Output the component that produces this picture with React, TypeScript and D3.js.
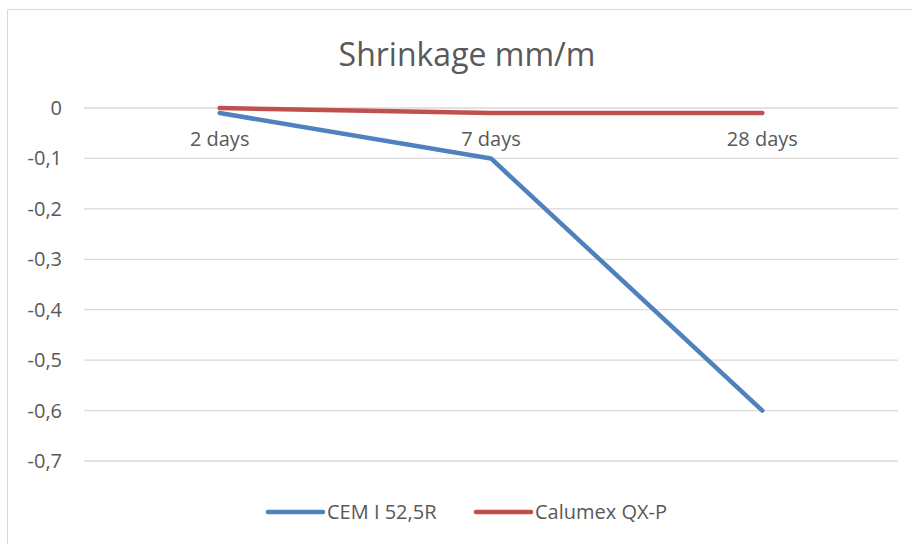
import React from "react";
import * as d3 from "d3";

const categories = ["2 days", "7 days", "28 days"];
const cemValues = [-0.01, -0.1, -0.6];
const calumexValues = [0, -0.01, -0.01];
const yTicks = [0, -0.1, -0.2, -0.3, -0.4, -0.5, -0.6, -0.7];
const seriesNames = ["CEM I 52,5R", "Calumex QX-P"];
const seriesColors = ["#4F81BD", "#C0504D"];

export default function App() {
  const W = 912, H = 544;
  const left = 84, right = 898, top = 108, bottom = 461;
  const x = d3.scaleBand<string>().domain(categories).range([left, right]);
  const y = d3.scaleLinear().domain([0, -0.7]).range([top, bottom]);
  const cx = (c: string) => (x(c) ?? 0) + x.bandwidth() / 2;
  const line = d3.line<number>().x((_, i) => cx(categories[i])).y((v) => y(v));
  const fmt = (v: number) => (v === 0 ? "0" : d3.format(".1f")(v).replace(".", ",").replace("−", "-"));
  const font = "'Open Sans', 'Liberation Sans', sans-serif";
  const series = [cemValues, calumexValues];
  const legendX = [268, 476];
  const fs = 20;
  return (
    <svg width={W} height={H} style={{ position: "absolute", left: 0, top: 0 }} fontFamily={font}>
      <rect x={0} y={0} width={W} height={H} fill="#fff" />
      <path d={`M7.5,${H} V9.5 H${W}`} fill="none" stroke="#d9d9d9" strokeWidth={1} />
      <text x={467} y={66} textAnchor="middle" fontSize={32} fill="#595959">Shrinkage mm/m</text>
      {yTicks.map((t) => (
        <g key={t}>
          <line x1={left} x2={right} y1={y(t)} y2={y(t)} stroke="#d9d9d9" strokeWidth={1.3} />
          <text x={62} y={y(t)} dy="0.35em" textAnchor="end" fontSize={fs} fill="#595959">{fmt(t)}</text>
        </g>
      ))}
      {categories.map((c) => (
        <text key={c} x={cx(c)} y={146} textAnchor="middle" fontSize={fs} fill="#595959">{c}</text>
      ))}
      {series.map((s, i) => (
        <path key={i} d={line(s) ?? ""} fill="none" stroke={seriesColors[i]} strokeWidth={4.5} strokeLinecap="round" strokeLinejoin="round" />
      ))}
      {seriesNames.map((n, i) => (
        <g key={n}>
          <line x1={legendX[i]} x2={legendX[i] + 55} y1={512} y2={512} stroke={seriesColors[i]} strokeWidth={4.5} strokeLinecap="round" />
          <text x={legendX[i] + 59} y={512} dy="0.35em" fontSize={fs} fill="#595959">{n}</text>
        </g>
      ))}
    </svg>
  );
}
